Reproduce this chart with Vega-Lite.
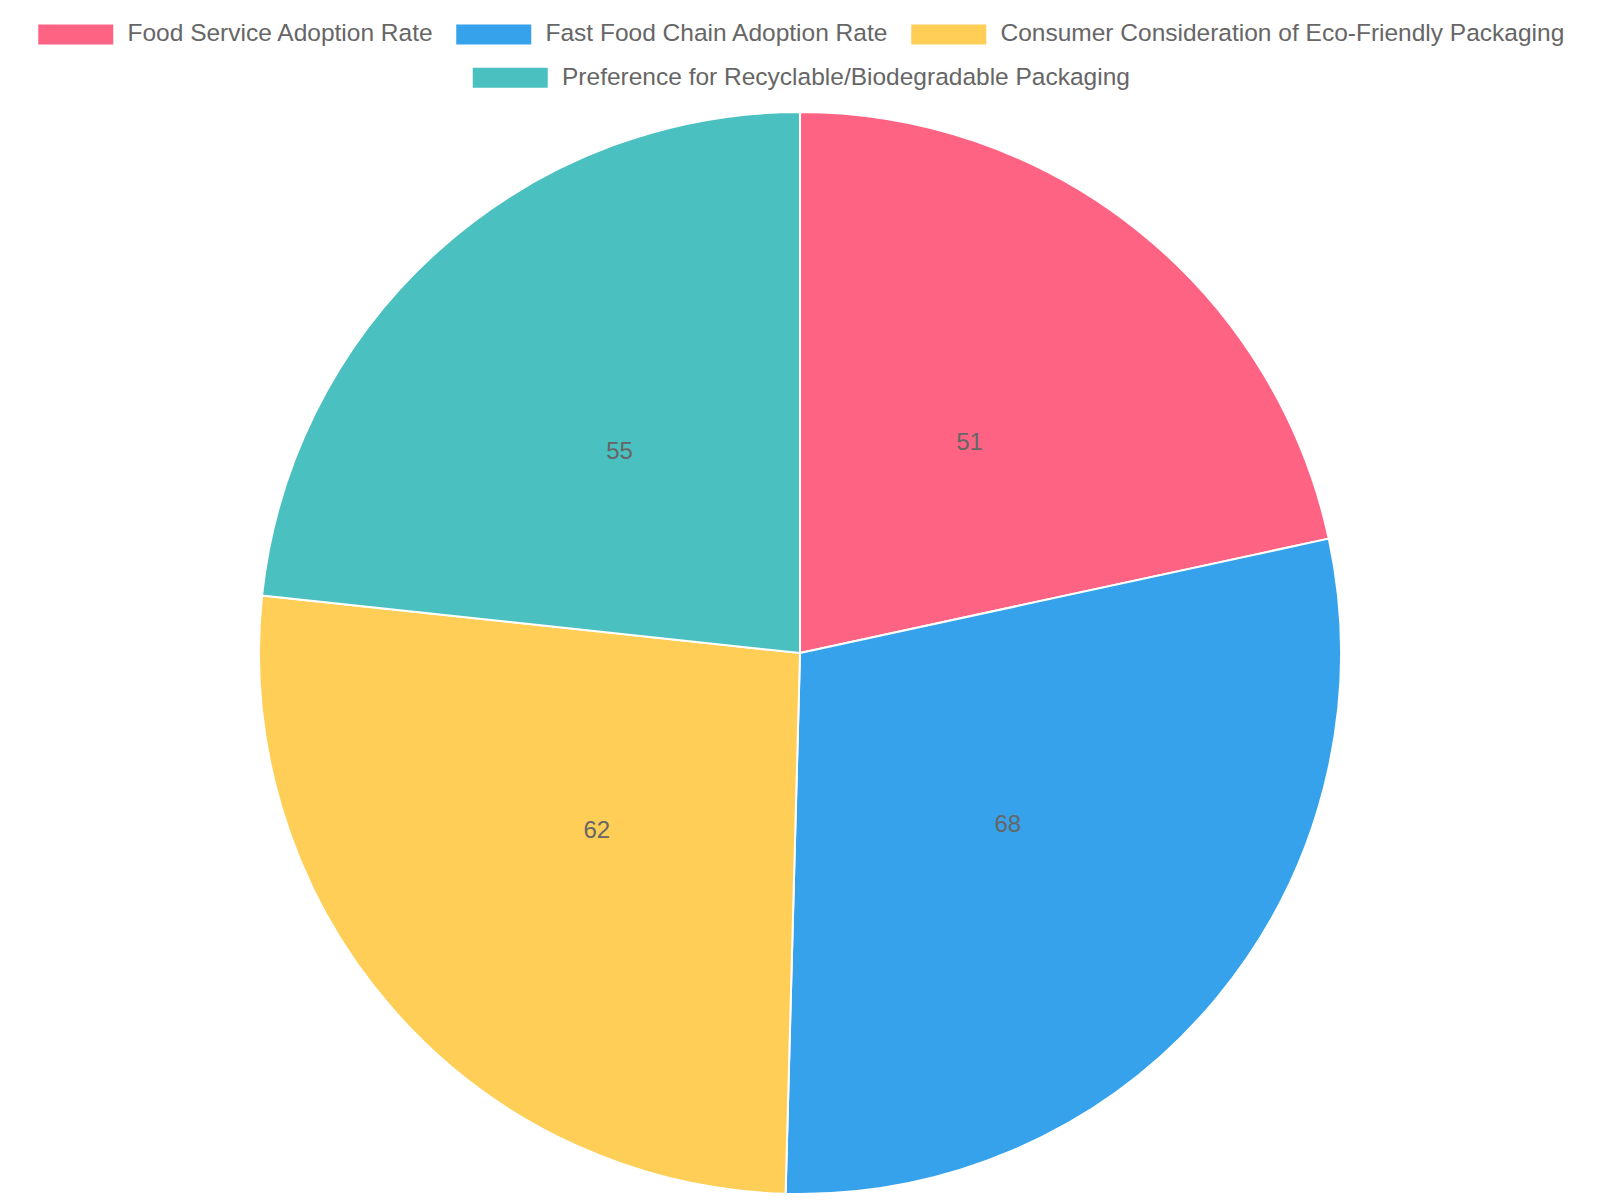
{
  "$schema": "https://vega.github.io/schema/vega-lite/v6.json",
  "autosize": {"type": "fit", "contains": "padding"},
  "width": 1600,
  "height": 1200,
  "padding": {"top": 22, "left": 0, "right": 0, "bottom": 0},
  "background": "white",
  "data": {
    "values": [
      {"category": "Food Service Adoption Rate", "value": 51},
      {"category": "Fast Food Chain Adoption Rate", "value": 68},
      {"category": "Consumer Consideration of Eco-Friendly Packaging", "value": 62},
      {"category": "Preference for Recyclable/Biodegradable Packaging", "value": 55}
    ]
  },
  "transform": [{"window": [{"op": "row_number", "as": "idx"}]}],
  "encoding": {
    "theta": {"field": "value", "type": "quantitative", "stack": true},
    "order": {"field": "idx", "type": "quantitative"}
  },
  "layer": [
    {
      "mark": {"type": "arc", "outerRadius": 541, "stroke": "white", "strokeWidth": 2},
      "encoding": {
        "color": {
          "field": "category", "type": "nominal",
          "scale": {
            "domain": ["Food Service Adoption Rate", "Fast Food Chain Adoption Rate", "Consumer Consideration of Eco-Friendly Packaging", "Preference for Recyclable/Biodegradable Packaging"],
            "range": ["#FF6384", "#36A2EB", "#FFCE56", "#4BC0C0"]
          },
          "legend": {"values": ["Food Service Adoption Rate", "Fast Food Chain Adoption Rate", "Consumer Consideration of Eco-Friendly Packaging"]}
        }
      }
    },
    {
      "mark": {"type": "arc", "outerRadius": 541, "stroke": "white", "strokeWidth": 2},
      "encoding": {
        "fill": {
          "field": "category", "type": "nominal",
          "scale": {
            "domain": ["Preference for Recyclable/Biodegradable Packaging", "Food Service Adoption Rate", "Fast Food Chain Adoption Rate", "Consumer Consideration of Eco-Friendly Packaging"],
            "range": ["#4BC0C0", "#FF6384", "#36A2EB", "#FFCE56"]
          },
          "legend": {"values": ["Preference for Recyclable/Biodegradable Packaging"]}
        }
      }
    },
    {
      "mark": {"type": "text", "radius": 270, "fontSize": 24, "font": "Liberation Sans", "color": "#666666", "baseline": "middle", "align": "center"},
      "encoding": {"text": {"field": "value", "type": "quantitative"}}
    }
  ],
  "config": {
    "view": {"stroke": null},
    "legend": {
      "orient": "top",
      "direction": "horizontal",
      "title": null,
      "symbolType": "M-1,-1H6.5V1H-1Z",
      "symbolSize": 400,
      "symbolStrokeWidth": 0,
      "symbolOpacity": 1,
      "labelFont": "Liberation Sans",
      "labelFontSize": 24.5,
      "labelColor": "#666666",
      "labelOffset": 67,
      "labelLimit": 0,
      "columnPadding": 20,
      "offset": 16.5,
      "layout": {"top": {"anchor": "middle", "direction": "vertical", "center": true, "margin": 19.5}}
    }
  }
}
